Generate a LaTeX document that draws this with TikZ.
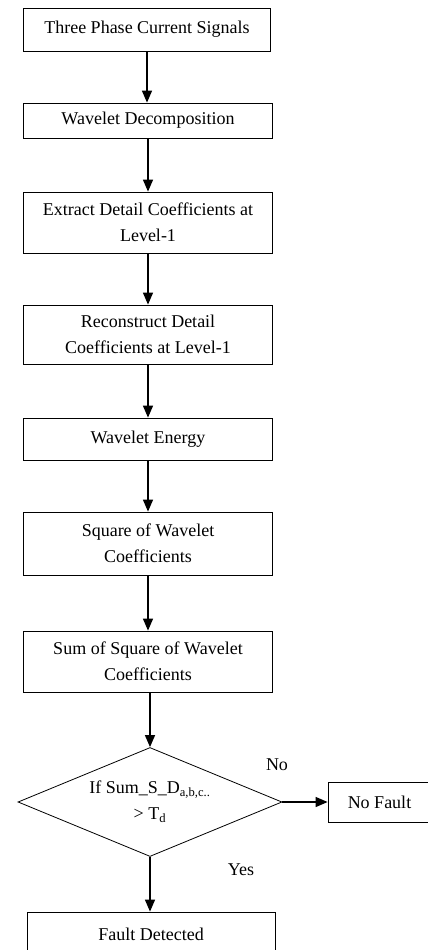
\documentclass[tikz,border=0pt]{standalone}
\usepackage{fontspec}
\setmainfont{Liberation Serif}
\usetikzlibrary{shapes.geometric,arrows.meta}

\begin{document}
\begin{tikzpicture}[x=0.75pt,y=-0.75pt,
    box/.style={draw, line width=0.6pt, align=center, inner sep=2pt,
        font=\fontsize{13.5}{19.5}\selectfont},
    decision/.style={draw, diamond, aspect=2.4, line width=0.6pt, align=center, inner sep=0pt,
        minimum width=198pt, minimum height=81.75pt,
        font=\fontsize{13.5}{19.5}\selectfont},
    flow/.style={-{Triangle[width=7.5pt,length=9pt]}, line width=1pt},
    lbl/.style={font=\fontsize{13.5}{15}\selectfont}]
    \useasboundingbox (0,0) rectangle (428,950);

    % Processing steps
    \node[box, minimum width=185.25pt, minimum height=32.25pt] (signals) at (147,29.5) {Three Phase Current Signals};
    \node[box, minimum width=186.75pt, minimum height=26.25pt] (decomp) at (148,120.5) {Wavelet Decomposition};
    \node[box, minimum width=186.75pt, minimum height=45.75pt] (extract) at (148,222.5) {Extract Detail Coefficients at\\Level-1};
    \node[box, minimum width=186.75pt, minimum height=44.25pt] (recon) at (148,334.5) {Reconstruct Detail\\Coefficients at Level-1};
    \node[box, minimum width=186.75pt, minimum height=31.5pt] (energy) at (148,439) {Wavelet Energy};
    \node[box, minimum width=186.75pt, minimum height=47.25pt] (square) at (148,543.5) {Square of Wavelet\\Coefficients};
    \node[box, minimum width=186.75pt, minimum height=45.75pt] (sumsq) at (148,661.5) {Sum of Square of Wavelet\\Coefficients};

    % Decision
    \node[decision] (check) at (150,802) {If Sum\_S\_D\textsubscript{a,b,c..}\\> T\textsubscript{d}};

    % Outcomes
    \node[box, minimum width=77.25pt, minimum height=30pt] (nofault) at (379.5,802) {No Fault};
    \node[box, minimum width=186pt, minimum height=33pt] (fault) at (151,934) {Fault Detected};

    % Connections
    \draw[flow] (signals) -- (signals |- decomp.north);
    \draw[flow] (decomp) -- (decomp |- extract.north);
    \draw[flow] (extract) -- (extract |- recon.north);
    \draw[flow] (recon) -- (recon |- energy.north);
    \draw[flow] (energy) -- (energy |- square.north);
    \draw[flow] (square) -- (square |- sumsq.north);
    \draw[flow] (sumsq.south -| check.north) -- (check.north);
    \draw[flow] (check.east) -- (check.east -| nofault.west);
    \draw[flow] (check.south) -- (check.south |- fault.north);

    % Branch labels
    \node[lbl] (lblno) at (277,765) {No};
    \node[lbl] (lblyes) at (241,870) {Yes};
\end{tikzpicture}
\end{document}
